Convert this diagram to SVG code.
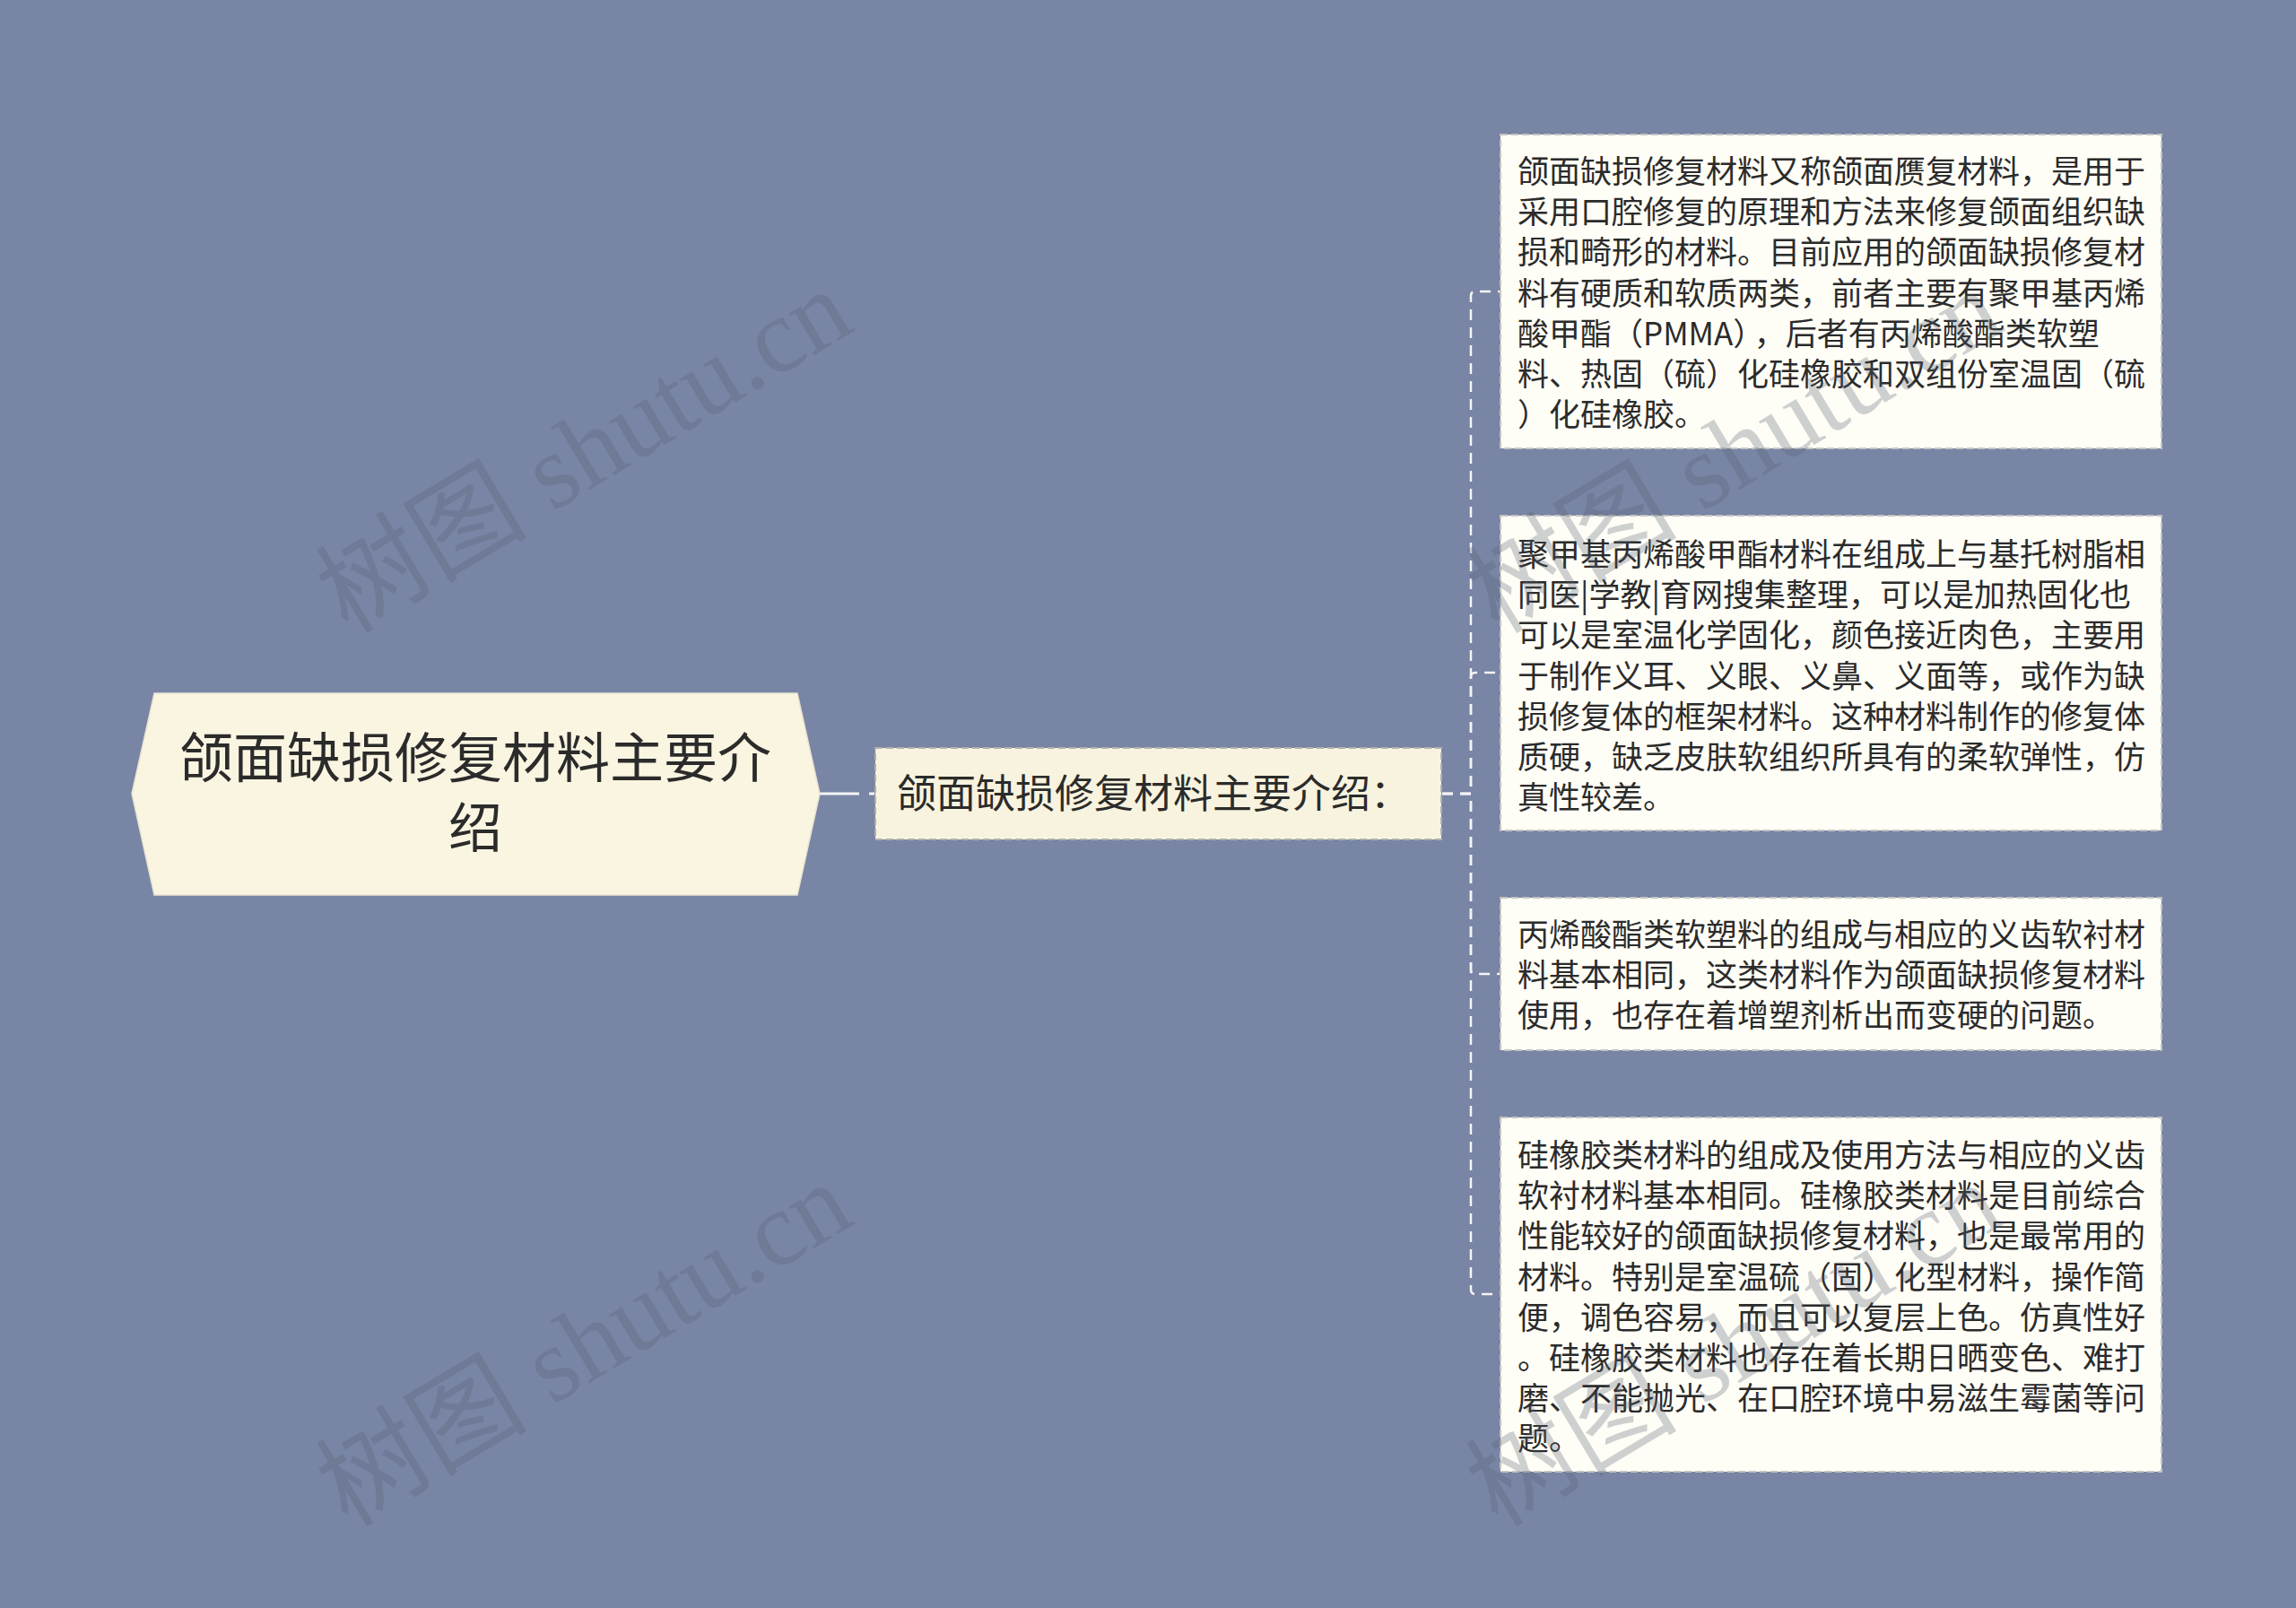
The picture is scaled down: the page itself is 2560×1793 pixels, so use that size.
<svg xmlns="http://www.w3.org/2000/svg" width="2560" height="1793" viewBox="0 0 2560 1793">
<style>
.bg{fill:#7885a5}
.root{fill:#faf5e1;stroke:#e8e3cf;stroke-width:1.5}
.mid{fill:#f8f3de;stroke:#b0b0ad;stroke-width:2;stroke-dasharray:8 4}
.leaf{fill:#fefdf6;stroke:#c4c4c0;stroke-width:2;stroke-dasharray:8 4}
.t{font-family:"Noto Sans CJK SC","Noto Sans",sans-serif;fill:#2b2b2b}
.rt{font-size:60px;text-anchor:middle}
.mt{font-size:44px}
.lt{font-size:35px}
.conn{fill:none;stroke:#f4f4f4;stroke-width:2.5;stroke-dasharray:12 8}
.wm{font-family:"Liberation Serif","Noto Sans CJK SC",serif;font-size:118px;fill:#555e70;opacity:0.28}
</style>
<rect class="bg" x="0" y="0" width="2560" height="1793"/>
<g id="connectors">
<path d="M914 885 H975" fill="none" stroke="#f4f4f4" stroke-width="3" stroke-dasharray="44 11"/>
<path class="conn" d="M1608 885 H1640 V330 Q1640 325 1645 325 H1672"/>
<path class="conn" d="M1608 885 H1640 V755 Q1640 750 1645 750 H1672"/>
<path class="conn" d="M1608 885 H1640 V1081 Q1640 1086 1645 1086 H1672"/>
<path class="conn" d="M1608 885 H1640 V1438 Q1640 1443 1645 1443 H1672"/>
</g>
<g id="root">
<polygon class="root" points="147,885 172,773 889,773 914,885 889,998 172,998"/>
<text class="t rt" x="530" y="867">颌面缺损修复材料主要介</text>
<text class="t rt" x="530" y="945">绍</text>
</g>
<g id="middle">
<rect class="mid" x="976" y="834" width="631" height="102"/>
<text class="t mt" x="1000" y="901">颌面缺损修复材料主要介绍：</text>
</g>
<g id="leaf1">
<rect class="leaf" x="1673" y="150" width="737" height="350"/>
<text class="t lt" x="1692" y="204">
<tspan x="1692">颌面缺损修复材料又称颌面赝复材料，是用于</tspan>
<tspan x="1692" dy="45.2">采用口腔修复的原理和方法来修复颌面组织缺</tspan>
<tspan x="1692" dy="45.2">损和畸形的材料。目前应用的颌面缺损修复材</tspan>
<tspan x="1692" dy="45.2">料有硬质和软质两类，前者主要有聚甲基丙烯</tspan>
<tspan x="1692" dy="45.2">酸甲酯（PMMA）<tspan dx="6">，后者有丙烯酸酯类软塑</tspan></tspan>
<tspan x="1692" dy="45.2">料、热固（硫）化硅橡胶和双组份室温固（硫</tspan>
<tspan x="1692" dy="45.2">）化硅橡胶。</tspan>
</text>
</g>
<g id="leaf2">
<rect class="leaf" x="1673" y="575" width="737" height="351"/>
<text class="t lt" x="1692" y="631">
<tspan x="1692">聚甲基丙烯酸甲酯材料在组成上与基托树脂相</tspan>
<tspan x="1692" dy="45.2">同医|学教|育网搜集整理，可以是加热固化也</tspan>
<tspan x="1692" dy="45.2">可以是室温化学固化，颜色接近肉色，主要用</tspan>
<tspan x="1692" dy="45.2">于制作义耳、义眼、义鼻、义面等，或作为缺</tspan>
<tspan x="1692" dy="45.2">损修复体的框架材料。这种材料制作的修复体</tspan>
<tspan x="1692" dy="45.2">质硬，缺乏皮肤软组织所具有的柔软弹性，仿</tspan>
<tspan x="1692" dy="45.2">真性较差。</tspan>
</text>
</g>
<g id="leaf3">
<rect class="leaf" x="1673" y="1001" width="737" height="170"/>
<text class="t lt" x="1692" y="1055">
<tspan x="1692">丙烯酸酯类软塑料的组成与相应的义齿软衬材</tspan>
<tspan x="1692" dy="45.2">料基本相同，这类材料作为颌面缺损修复材料</tspan>
<tspan x="1692" dy="45.2">使用，也存在着增塑剂析出而变硬的问题。</tspan>
</text>
</g>
<g id="leaf4">
<rect class="leaf" x="1673" y="1246" width="737" height="395"/>
<text class="t lt" x="1692" y="1301">
<tspan x="1692">硅橡胶类材料的组成及使用方法与相应的义齿</tspan>
<tspan x="1692" dy="45.2">软衬材料基本相同。硅橡胶类材料是目前综合</tspan>
<tspan x="1692" dy="45.2">性能较好的颌面缺损修复材料，也是最常用的</tspan>
<tspan x="1692" dy="45.2">材料。特别是室温硫（固）化型材料，操作简</tspan>
<tspan x="1692" dy="45.2">便，调色容易，而且可以复层上色。仿真性好</tspan>
<tspan x="1692" dy="45.2">。硅橡胶类材料也存在着长期日晒变色、难打</tspan>
<tspan x="1692" dy="45.2">磨、不能抛光、在口腔环境中易滋生霉菌等问</tspan>
<tspan x="1692" dy="45.2">题。</tspan>
</text>
</g>
<g id="watermarks">
<text class="wm" transform="translate(388,708) rotate(-31)">树图 shutu.cn</text>
<text class="wm" transform="translate(1670,708) rotate(-31)">树图 shutu.cn</text>
<text class="wm" transform="translate(388,1704) rotate(-31)">树图 shutu.cn</text>
<text class="wm" transform="translate(1670,1704) rotate(-31)">树图 shutu.cn</text>
</g>
</svg>
